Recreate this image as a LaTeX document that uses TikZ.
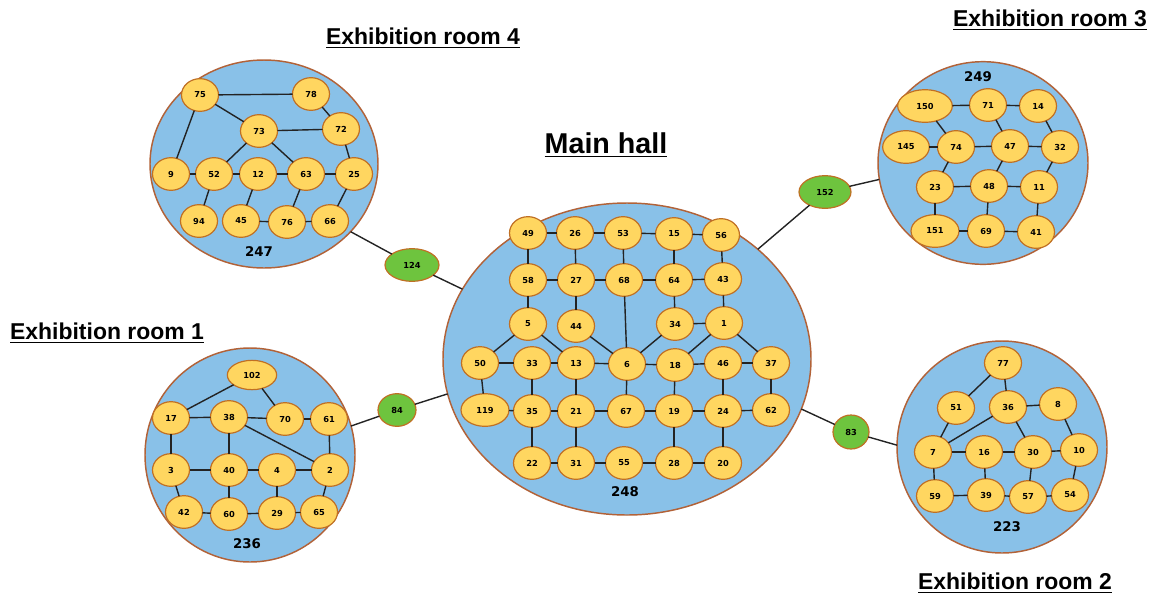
\documentclass[tikz,border=0pt]{standalone}
\usepackage{fontspec}
\setmainfont{Liberation Sans}
\newfontfamily\dejavu{DejaVu Sans}
\usetikzlibrary{shapes.geometric}
\definecolor{roomfill}{RGB}{137,193,232}
\definecolor{roomline}{RGB}{178,98,56}
\definecolor{spotfill}{RGB}{255,214,96}
\definecolor{spotline}{RGB}{192,112,36}
\definecolor{gatefill}{RGB}{110,196,62}
\definecolor{linkcol}{RGB}{35,35,35}
\begin{document}
\begin{tikzpicture}[x=0.75pt,y=-0.75pt,
  room/.style={ellipse,draw=roomline,fill=roomfill,line width=1.1pt,inner sep=0pt,outer sep=0pt},
  spot/.style={ellipse,draw=spotline,fill=spotfill,line width=0.9pt,inner sep=0pt,outer sep=0pt,
    minimum width=27.75pt,minimum height=24.5pt,font=\dejavu\bfseries\fontsize{6.2}{7}\selectfont},
  gate/.style={spot,fill=gatefill},
  link/.style={draw=linkcol,line width=1.05pt},
  title/.style={font=\bfseries\fontsize{17.2}{20}\selectfont,inner sep=0pt},
  count/.style={font=\dejavu\bfseries\fontsize{10}{12}\selectfont,inner sep=0pt}]
\useasboundingbox (0,0) rectangle (1150,601);

% rooms
\node[room,minimum width=171pt,minimum height=156pt] (r4) at (264,164) {};
\node[room,minimum width=157.5pt,minimum height=152pt] (r3) at (983,163) {};
\node[room,minimum width=157.5pt,minimum height=160.5pt] (r1) at (250,455) {};
\node[room,minimum width=157.5pt,minimum height=159pt] (r2) at (1002,447) {};
\node[room,minimum width=276pt,minimum height=234pt] (hall) at (627,359) {};

% titles
\node[title] (t4) at (423,38) {\underline{Exhibition room 4}};
\node[title] (t3) at (1050,20) {\underline{Exhibition room 3}};
\node[title] (t1) at (107,333) {\underline{Exhibition room 1}};
\node[title] (t2) at (1015,583) {\underline{Exhibition room 2}};
\node[title,font=\bfseries\fontsize{21.5}{24}\selectfont] (th) at (606,145) {\underline{Main hall}};

% room totals
\node[count] (c4) at (259,252) {247};
\node[count] (c3) at (978,77) {249};
\node[count] (c1) at (247,544) {236};
\node[count] (c2) at (1007,527) {223};
\node[count] (ch) at (625,492) {248};

% spots of standard size
\foreach \n/\x/\y in {
  75/200/95, 78/311/94, 73/259/131, 72/341/129, 9/171/174, 52/214/174, 12/258/174,
  63/306/174, 25/354/174, 94/199/221, 45/241/221, 76/287/222, 66/330/221,
  71/988/105, 14/1038/106, 74/956/147, 47/1010/146, 32/1060/147, 23/935/187,
  48/989/186, 11/1039/187, 69/986/231, 41/1036/232,
  17/171/418, 38/229/417, 70/285/419, 61/329/419, 3/171/470, 40/229/470, 4/277/470,
  2/330/470, 42/184/512, 60/229/514, 29/277/513, 65/319/512,
  77/1003/363, 51/956/408, 36/1008/407, 8/1058/404, 7/933/452, 16/984/452,
  30/1033/452, 10/1079/450, 59/935/496, 39/986/495, 57/1028/497, 54/1070/495,
  49/528/233, 26/575/233, 53/623/233, 15/674/234, 56/721/235,
  58/528/280, 27/576/280, 68/624/280, 64/674/280, 43/723/279,
  5/528/324, 44/576/326, 34/675/324, 1/724/323,
  50/480/363, 33/532/363, 13/576/363, 6/627/364, 18/675/365, 46/723/363, 37/771/363,
  35/532/411, 21/576/411, 67/626/411, 19/674/411, 24/723/411, 62/771/410,
  22/532/463, 31/576/463, 55/624/463, 28/674/463, 20/723/463}
  \node[spot] (n\n) at (\x,\y) {\n};

% wider spots
\node[spot,minimum width=41pt] (n150) at (925,106) {150};
\node[spot,minimum width=35pt] (n145) at (906,147) {145};
\node[spot,minimum width=36pt] (n151) at (935,231) {151};
\node[spot,minimum width=36pt] (n119) at (485,410) {119};
\node[spot,minimum width=37pt,minimum height=22pt] (n102) at (252,375) {102};

% passages between rooms
\node[gate,minimum width=40.5pt] (n124) at (412,265) {124};
\node[gate,minimum width=28.5pt] (n84) at (397,410) {84};
\node[gate,minimum width=39pt] (n152) at (825,192) {152};
\node[gate,minimum width=27pt,minimum height=25.5pt] (n83) at (851,432) {83};

% links inside rooms
\foreach \a/\b in {
  75/78, 75/73, 75/9, 78/72, 73/72, 73/52, 73/63, 72/25, 9/52, 52/12, 12/63, 63/25,
  52/94, 12/45, 45/76, 63/76, 76/66, 25/66,
  150/71, 71/14, 150/74, 71/47, 14/32, 145/74, 74/47, 47/32, 74/23, 47/48, 32/11,
  23/48, 48/11, 23/151, 48/69, 11/41, 151/69, 69/41,
  102/17, 102/70, 17/38, 38/70, 70/61, 38/2, 61/2, 17/3, 38/40, 3/40, 40/4, 4/2,
  3/42, 40/60, 4/29, 2/65, 42/60, 60/29, 29/65,
  77/51, 77/36, 36/8, 51/7, 36/7, 36/30, 8/10, 7/16, 16/30, 30/10, 7/59, 16/39,
  30/57, 10/54, 59/39, 39/57, 57/54,
  49/26, 26/53, 53/15, 15/56, 49/58, 26/27, 53/68, 15/64, 56/43, 58/27, 27/68,
  68/64, 64/43, 58/5, 27/44, 68/6, 64/34, 43/1, 34/1, 5/50, 5/13, 44/6, 34/6,
  1/18, 1/37, 50/33, 33/13, 13/6, 6/18, 18/46, 46/37, 50/119, 33/35, 13/21, 6/67,
  18/19, 46/24, 37/62, 119/35, 35/21, 21/67, 67/19, 19/24, 24/62, 35/22, 21/31,
  19/28, 24/20, 22/31, 31/55, 55/28, 28/20}
  \draw[link] (n\a) -- (n\b);

% links between rooms
\draw[link] (r4.-38) -- (n124) -- (hall.157.8);
\draw[link] (r1.16) -- (n84) -- (hall.191.5);
\draw[link] (hall.40.5) -- (n152) -- (r3.189.7);
\draw[link] (hall.-16.7) -- (n83) -- (r2.179);
\end{tikzpicture}
\end{document}
